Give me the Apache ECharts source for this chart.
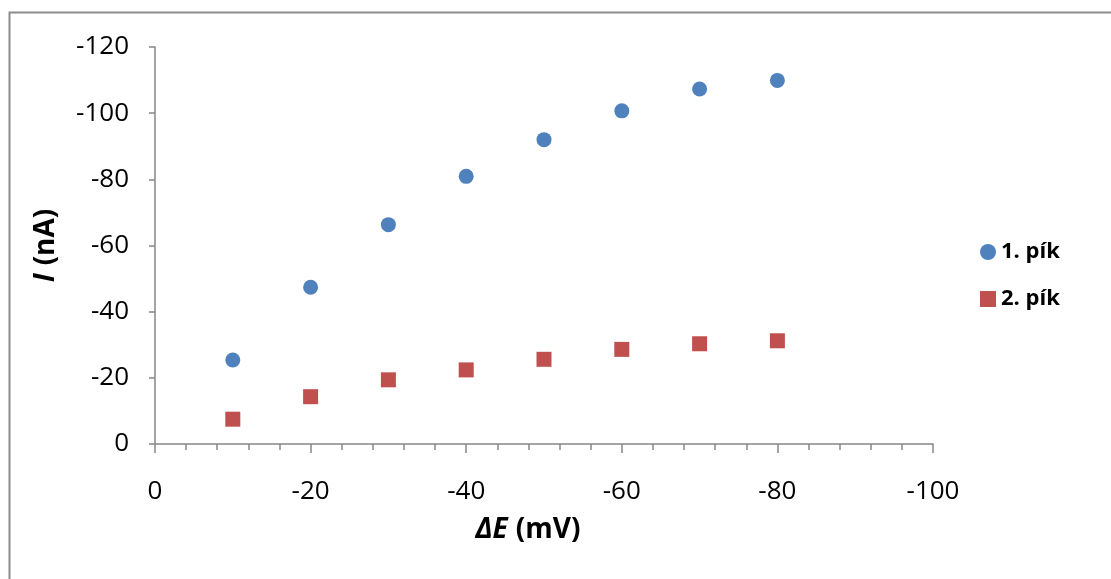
<!DOCTYPE html>
<html>
<head>
<meta charset="utf-8">
<script src="https://cdn.jsdelivr.net/npm/echarts@6/dist/echarts.min.js"></script>
<style>
html,body{margin:0;padding:0;background:#fff;}
#c{width:1111px;height:579px;}
</style>
</head>
<body>
<div id="c"></div>
<script>
const deltaE = [-10, -20, -30, -40, -50, -60, -70, -80];
const peak1 = [-25.4, -47.4, -66.3, -80.9, -92.0, -100.7, -107.3, -109.9];
const peak2 = [-7.5, -14.3, -19.4, -22.4, -25.6, -28.6, -30.3, -31.2];
const seriesNames = ['1. p\u00edk', '2. p\u00edk'];

const font = '"Open Sans", "Noto Sans", sans-serif';
const chart = echarts.init(document.getElementById('c'));
chart.setOption({
  animation: false,
  backgroundColor: '#fff',
  textStyle: { fontFamily: font },
  grid: { left: 155, right: 178, top: 47, bottom: 135 },
  graphic: [{
    type: 'rect', left: 7, top: 10, z: -1,
    shape: { width: 1200, height: 700 },
    style: { fill: 'none', stroke: '#8c8c8c', lineWidth: 2 }
  }],
  legend: {
    orient: 'vertical', left: 980, top: 241, padding: 0,
    itemWidth: 16, itemHeight: 16, itemGap: 25, itemStyle: { opacity: 1 },
    textStyle: { fontSize: 22, fontWeight: 'bold', color: '#000', fontFamily: font },
    data: seriesNames
  },
  xAxis: {
    type: 'value', min: -100, max: 0, interval: 20, inverse: true,
    name: '{i|\u0394E}{b|(mV)}', nameLocation: 'middle', nameGap: 72,
    nameTextStyle: {
      padding: [0, 32, 0, 0],
      rich: {
        i: { fontSize: 28, fontWeight: 'bold', fontStyle: 'italic', color: '#000', fontFamily: font, padding: [0, 8, 0, 0] },
        b: { fontSize: 28, fontWeight: 'bold', color: '#000', fontFamily: font }
      }
    },
    axisLine: { show: true, onZero: false, lineStyle: { color: '#868686', width: 1.5 } },
    axisTick: { show: true, length: 9, inside: false, lineStyle: { color: '#868686', width: 1.5 } },
    minorTick: { show: true, splitNumber: 5, length: 6, lineStyle: { color: '#868686', width: 1.5 } },
    splitLine: { show: false },
    axisLabel: { fontSize: 26, color: '#000', margin: 35, fontFamily: font }
  },
  yAxis: {
    type: 'value', min: -120, max: 0, interval: 20, inverse: true,
    name: '{i|I}{b|(nA)}', nameLocation: 'middle', nameGap: 95, nameRotate: 90,
    nameTextStyle: {
      rich: {
        i: { fontSize: 28, fontWeight: 'bold', fontStyle: 'italic', color: '#000', fontFamily: font, padding: [0, 8, 0, 0] },
        b: { fontSize: 28, fontWeight: 'bold', color: '#000', fontFamily: font }
      }
    },
    axisLine: { show: true, onZero: false, lineStyle: { color: '#868686', width: 1.5 } },
    axisTick: { show: true, length: 6, lineStyle: { color: '#868686', width: 1.5 } },
    splitLine: { show: false },
    axisLabel: { fontSize: 26, color: '#000', margin: 26, fontFamily: font }
  },
  series: [
    {
      name: seriesNames[0], type: 'scatter', symbol: 'circle', symbolSize: 15,
      itemStyle: { color: '#4F81BD', opacity: 1 },
      data: deltaE.map((x, i) => [x, peak1[i]])
    },
    {
      name: seriesNames[1], type: 'scatter', symbol: 'rect', symbolSize: 15,
      itemStyle: { color: '#C0504D', opacity: 1 },
      data: deltaE.map((x, i) => [x, peak2[i]])
    }
  ]
});
</script>
</body>
</html>
